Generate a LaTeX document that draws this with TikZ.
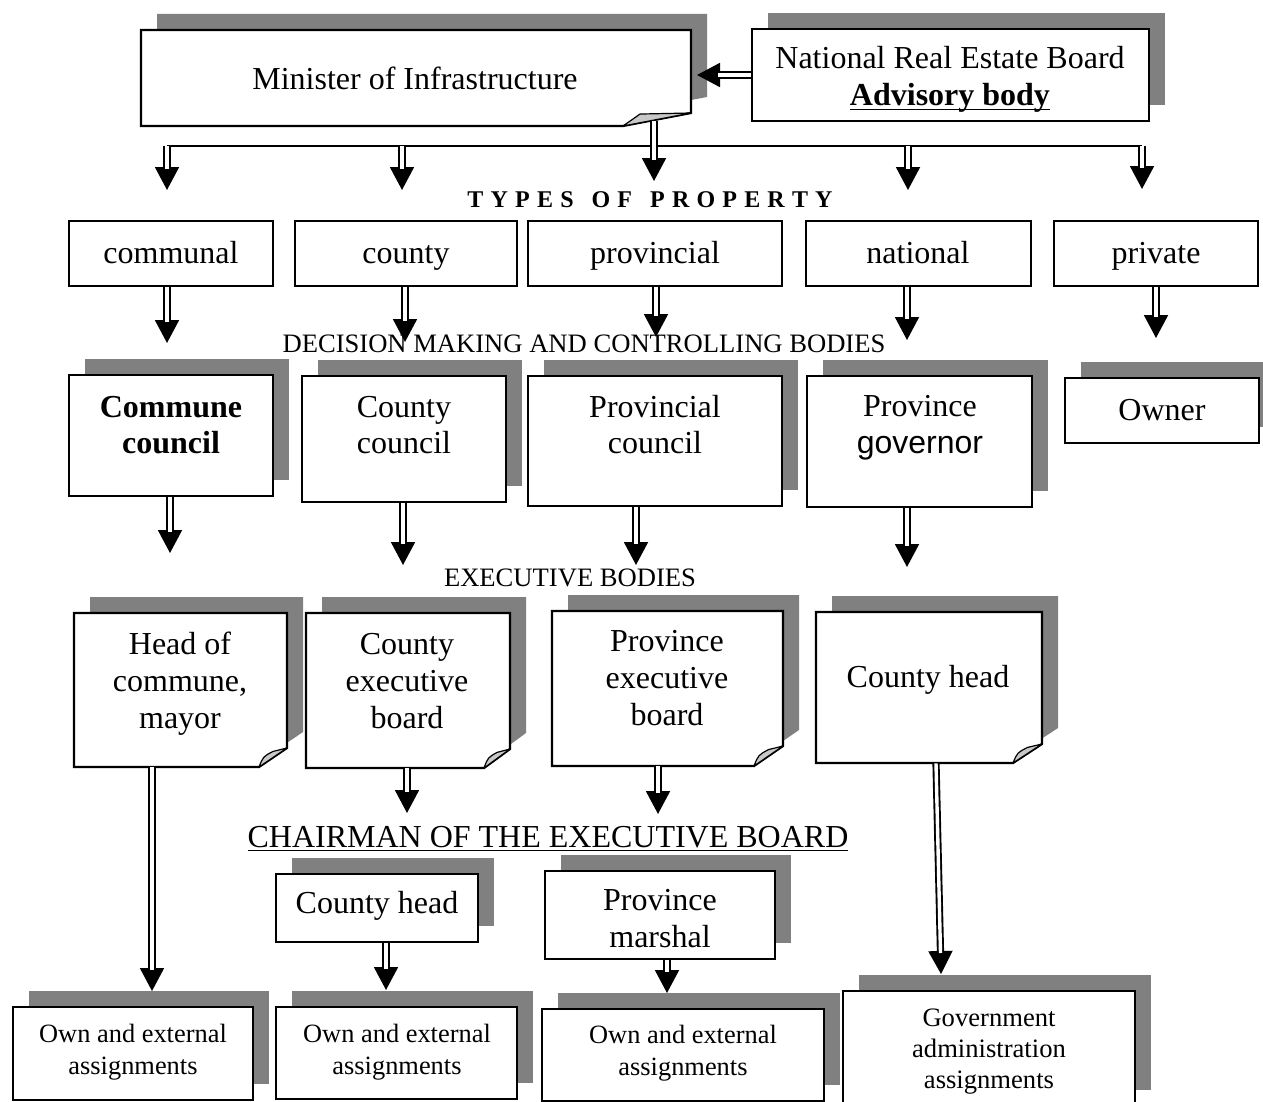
\documentclass[tikz,border=0pt]{standalone}
\usepackage{fontspec}
\setmainfont{Liberation Serif}
\newfontfamily\arialfont{Liberation Sans}
\usetikzlibrary{arrows.meta,fit,calc}
\definecolor{shadowgray}{RGB}{128,128,128}
\definecolor{foldgray}{RGB}{200,200,200}
\newsavebox\ulbox
\newcommand\myul[3]{\sbox\ulbox{#1}\rlap{\rule[-#2]{\wd\ulbox}{#3}}\usebox\ulbox}
\newcommand\ls{\hspace{0.3em}}
\newcommand\ws{\hspace{0.75em}}
\tikzset{
  frame/.style={draw=black, line width=1.1pt, fill=white, inner sep=0pt, rectangle},
  boxline/.style={draw=black, line width=1.1pt, fill=white, line join=miter},
  foldline/.style={fill=foldgray, draw=black, line width=0.6pt, line join=round},
  big/.style={inner sep=0pt, align=center, font=\fontsize{16}{18.5}\selectfont},
  small/.style={inner sep=0pt, align=center, font=\fontsize{13.2}{16}\selectfont},
  caption/.style={inner sep=0pt, font=\fontsize{13.3}{15}\selectfont},
  headline/.style={line width=0.95pt, -{Triangle[width=12pt,length=11.5pt]}},
  stemline/.style={double=white, double distance=1.7pt, line width=0.95pt, shorten >=10.5pt},
  hline/.style={line width=0.8pt},
}
\newcommand\darr[2]{\draw[headline] (#1) -- (#2); \draw[stemline] (#1) -- (#2);}
\newcommand\rbox[5]{%
  \fill[shadowgray] ({#2+16},{#3-16}) rectangle ({#4+16},{#5-16});
  \node[frame, fit={(#2,#3)(#4,#5)}] (#1) {};}
\newcommand\foldbox[9]{%
  \fill[shadowgray] ({#2+16},{#3-16}) -- ({#4+16},{#3-16}) -- ({#4+16},{#5-#7-16}) -- ({#4-#6+16},{#5-16}) -- ({#2+16},{#5-16}) -- cycle;
  \draw[boxline] (#2,#3) -- (#4,#3) -- (#4,{#5-#7}) -- ({#4-#6},#5) -- (#2,#5) -- cycle;
  \filldraw[foldline] (#4,{#5-#7}) -- ({#4-#6},#5) .. controls ({#4-0.85*#6},{#5-0.55*#7}) .. ({#4-#8*#6},{#5-#9*#7}) -- cycle;
  \node[inner sep=0pt, fit={(#2,#3)(#4,#5)}] (#1) {};}

\begin{document}
\begin{tikzpicture}[x=0.5pt,y=-0.5pt]
\useasboundingbox (0,0) rectangle (1263,1102);

% ---------- top ----------
\foldbox{min}{141}{30}{691}{126}{68}{13}{0.75}{0.92}
\node[big] (t-min) at (415,78) {Minister of Infrastructure};
\rbox{nreb}{752}{29}{1149}{121}
\node[big] (t-nreb) at (950,79) {National Real Estate Board\\\textbf{\myul{Advisory body}{2.6pt}{0.8pt}}};

% ---------- types ----------
\node[inner sep=0pt, font=\bfseries\fontsize{12}{14}\selectfont] (types) at (650,200)
  {T\ls Y\ls P\ls E\ls S\ws O\ls F\ws P\ls R\ls O\ls P\ls E\ls R\ls T\ls Y};
\node[frame, fit={(69,221)(273,286)}] (communal) {};
\node[frame, fit={(295,221)(517,286)}] (county) {};
\node[frame, fit={(528,221)(782,286)}] (provincial) {};
\node[frame, fit={(806,221)(1031,286)}] (national) {};
\node[frame, fit={(1054,221)(1258,286)}] (private) {};
\node[big, anchor=base] (t-communal) at (171,263) {communal};
\node[big, anchor=base] (t-county) at (406,263) {county};
\node[big, anchor=base] (t-provincial) at (655,263) {provincial};
\node[big, anchor=base] (t-national) at (918,263) {national};
\node[big, anchor=base] (t-private) at (1156,263) {private};

% ---------- decision ----------
\node[caption] (decision) at (584,344) {DECISION MAKING AND CONTROLLING BODIES};
\rbox{cc}{69}{375}{273}{496}
\rbox{kc}{302}{376}{506}{502}
\rbox{pc}{528}{376}{782}{506}
\rbox{pg}{807}{376}{1032}{507}
\rbox{own}{1065}{378}{1259}{443}
\node[big, font=\fontsize{16}{18}\selectfont\bfseries] (t-cc) at (171,425) {Commune\\council};
\node[big, font=\fontsize{16}{18}\selectfont] (t-kc) at (404,425) {County\\council};
\node[big, font=\fontsize{16}{18}\selectfont] (t-pc) at (655,425) {Provincial\\council};
\node[big, font=\fontsize{16}{18.5}\selectfont] (t-pg) at (920,428) {Province\\{\arialfont governor}};
\node[big] (t-own) at (1162,410) {Owner};

% ---------- executive ----------
\node[caption] (exec) at (570,578) {EXECUTIVE BODIES};
\foldbox{hc}{74}{613}{287}{767}{28}{19}{0.5}{0.82}
\foldbox{ke}{306}{613}{510}{768}{26}{19}{0.5}{0.82}
\foldbox{pe}{552}{611}{783}{766}{29}{20}{0.5}{0.82}
\foldbox{ch}{816}{612}{1042}{763}{29}{19}{0.5}{0.82}
\node[big] (t-hc) at (180,684) {Head of\\commune,\\mayor};
\node[big] (t-ke) at (407,681) {County\\executive\\board};
\node[big] (t-pe) at (667,678) {Province\\executive\\board};
\node[big] (t-ch) at (928,680) {County head};

% ---------- chairman ----------
\node[inner sep=0pt, anchor=base, font=\fontsize{16}{18}\selectfont] (chair) at (548,847)
  {\myul{CHAIRMAN OF THE EXECUTIVE BOARD}{2.2pt}{0.9pt}};
\rbox{chh}{276}{874}{478}{942}
\rbox{pm}{545}{871}{775}{959}
\node[big] (t-chh) at (377,906) {County head};
\node[big] (t-pm) at (660,919) {Province\\marshal};

% ---------- bottom ----------
\rbox{o1}{13}{1007}{253}{1100}
\rbox{o2}{276}{1007}{517}{1099}
\rbox{o3}{542}{1009}{824}{1101}
\rbox{gov}{843}{991}{1135}{1106}
\node[small] (t-o1) at (133,1052) {Own and external\\assignments};
\node[small] (t-o2) at (397,1052) {Own and external\\assignments};
\node[small] (t-o3) at (683,1053) {Own and external\\assignments};
\node[small, font=\fontsize{13.3}{15.5}\selectfont] (t-gov) at (989,1052) {Government\\administration\\assignments};

% ---------- connectors ----------
\coordinate (minR) at (697,75);
\darr{nreb.west}{minR}

\coordinate (h1) at (167,146);
\coordinate (h2) at (402,146);
\coordinate (h3) at (654,146);
\coordinate (h4) at (908,146);
\coordinate (h5) at (1142,146);
\draw[hline] (h1) -- (h5);
\coordinate (a1) at (167,190);
\coordinate (a2) at (402,190);
\coordinate (a3) at (654,181);
\coordinate (a4) at (908,190);
\coordinate (a5) at (1142,189);
\coordinate (minS) at (654,121);
\darr{h1}{a1}
\darr{h2}{a2}
\darr{minS}{a3}
\darr{h4}{a4}
\darr{h5}{a5}

\coordinate (b1) at (167,343);
\coordinate (b2) at (405,342);
\coordinate (b3) at (656,337);
\coordinate (b4) at (907,340);
\coordinate (b5) at (1156,338);
\darr{[xshift=-2pt]communal.south}{b1}
\darr{[xshift=-0.5pt]county.south}{b2}
\darr{[xshift=0.5pt]provincial.south}{b3}
\darr{[xshift=-5.75pt]national.south}{b4}
\darr{private.south}{b5}

\coordinate (c1) at (170,553);
\coordinate (c2) at (403,565);
\coordinate (c3) at (636,565);
\coordinate (c4) at (907,567);
\darr{[xshift=-0.5pt]cc.south}{c1}
\darr{[xshift=-0.5pt]kc.south}{c2}
\darr{[xshift=-9.5pt]pc.south}{c3}
\darr{[xshift=-6.25pt]pg.south}{c4}

\coordinate (d1) at (152,991);
\coordinate (d2) at (407,813);
\coordinate (d3) at (658,814);
\coordinate (d4) at (941,974);
\darr{[xshift=-14.25pt]hc.south}{d1}
\darr{[xshift=-0.5pt]ke.south}{d2}
\darr{[xshift=-4.75pt]pe.south}{d3}
\darr{[xshift=3.5pt]ch.south}{d4}

\coordinate (e1) at (386,990);
\coordinate (e2) at (667,993);
\darr{[xshift=4.5pt]chh.south}{e1}
\darr{[xshift=3.5pt]pm.south}{e2}
\end{tikzpicture}
\end{document}
